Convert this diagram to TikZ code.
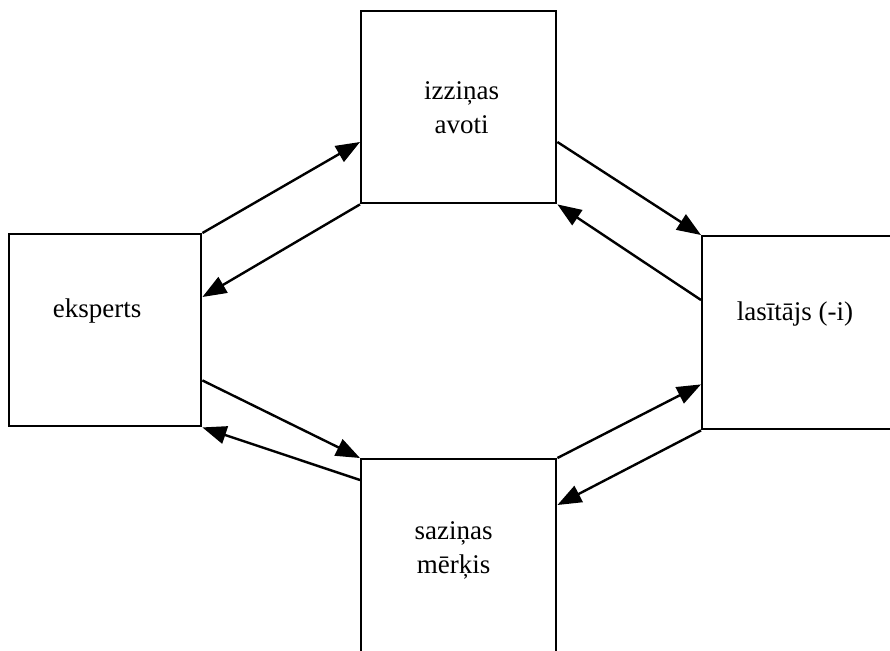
\documentclass[tikz,border=0pt]{standalone}
\usepackage{fontspec}
\setmainfont{Liberation Serif}
\usetikzlibrary{arrows.meta,calc}
\begin{document}
\begin{tikzpicture}[x=0.5pt,y=-0.5pt,
  box/.style={draw, line width=1.2pt, inner sep=0pt, anchor=north west},
  flow/.style={line width=1.2pt, -{Triangle[length=12pt,width=9pt]}},
  lbl/.style={font=\fontsize{13.5}{17}\selectfont, align=center, inner sep=0pt}]
\useasboundingbox (0,0) rectangle (890,650);
\clip (0,0) rectangle (890,650);

% the four boxes
\node[box, minimum width=97.5pt, minimum height=96pt] (izz) at (360,10) {};
\node[box, minimum width=96pt, minimum height=96pt] (eks) at (8,233) {};
\node[box, minimum width=110pt, minimum height=96.5pt] (las) at (701,235) {};
\node[box, minimum width=97.5pt, minimum height=105pt] (saz) at (360,458) {};

% labels
\node[lbl] (izzt) at ($(izz.center)+(3,0)$) {izziņas\\avoti};
\node[lbl] (ekst) at ($(eks.center)+(-8,-19)$) {eksperts};
\node[lbl] (last) at ($(las.west)+(94,-19)$) {lasītājs (-i)};
\node[lbl] (sazt) at ($(saz.north)+(-5,92)$) {saziņas\\mērķis};

% connectors between the boxes
\draw[flow] (eks.north east) -- ($(izz.north west)+(0,132)$);
\draw[flow] (izz.south west) -- ($(eks.north east)+(0,64)$);
\draw[flow] ($(izz.north east)+(0,132)$) -- (las.north west);
\draw[flow] ($(las.north west)+(0,65)$) -- (izz.south east);
\draw[flow] ($(eks.south east)+(0,-47)$) -- (saz.north west);
\draw[flow] ($(saz.north west)+(0,22)$) -- (eks.south east);
\draw[flow] (saz.north east) -- ($(las.south west)+(0,-46)$);
\draw[flow] (las.south west) -- ($(saz.north east)+(0,47)$);
\end{tikzpicture}
\end{document}
